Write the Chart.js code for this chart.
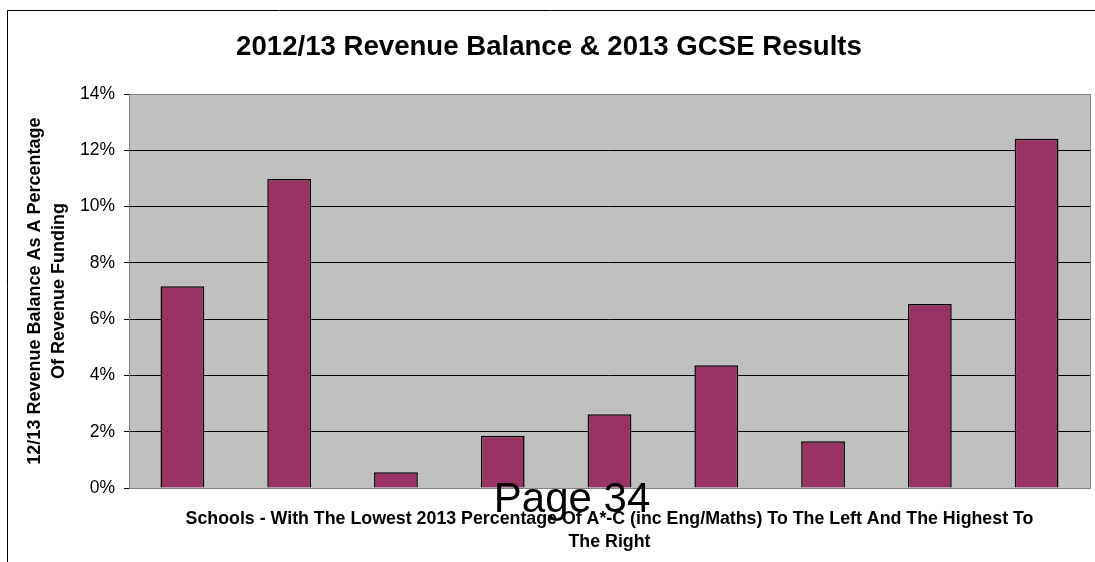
<!DOCTYPE html>
<html>
<head>
<meta charset="utf-8">
<script src="https://cdn.jsdelivr.net/npm/chart.js@4"></script>
<style>
  html, body { margin: 0; padding: 0; background: #fff; }
  #wrap { width: 1095px; height: 562px; position: relative; }
</style>
</head>
<body>
<div id="wrap"><canvas id="balanceChart"></canvas></div>
<script>
// Schools ordered by 2013 A*-C (inc Eng/Maths), lowest on the left
const schools = ["School 1", "School 2", "School 3", "School 4", "School 5",
                 "School 6", "School 7", "School 8", "School 9"];
// 2012/13 revenue balance as % of revenue funding
const balancePct = [7.17, 10.98, 0.56, 1.86, 2.62, 4.36, 1.66, 6.54, 12.41];
const yTicks = [0, 2, 4, 6, 8, 10, 12, 14];

const FONT = "'Liberation Sans', Arial, sans-serif";

// grey plot background + border, outer frame and the page number
const chartDecor = {
  id: "chartDecor",
  beforeDraw(chart) {
    const { ctx, chartArea: a } = chart;
    ctx.save();
    ctx.fillStyle = "#C0C0C0";
    ctx.fillRect(a.left, a.top, a.right - a.left, a.bottom - a.top);
    ctx.restore();
  },
  afterDatasetsDraw(chart) {
    const { ctx, chartArea: a } = chart;
    ctx.save();
    ctx.strokeStyle = "#808080";
    ctx.lineWidth = 1;
    ctx.strokeRect(Math.round(a.left) + 0.5, Math.round(a.top) + 0.5,
                   Math.round(a.right - a.left), Math.round(a.bottom - a.top));
    ctx.restore();
  },
  afterDraw(chart) {
    const ctx = chart.ctx;
    ctx.save();
    ctx.strokeStyle = "#000";
    ctx.lineWidth = 1;
    ctx.beginPath();
    ctx.moveTo(7.5, chart.height);
    ctx.lineTo(7.5, 10.5);
    ctx.lineTo(chart.width, 10.5);
    ctx.stroke();
    ctx.fillStyle = "#000";
    ctx.font = "42px " + FONT;
    ctx.textAlign = "center";
    ctx.textBaseline = "alphabetic";
    ctx.fillText("Page 34", 572, 512);
    ctx.restore();
  }
};

new Chart(document.getElementById("balanceChart"), {
  type: "bar",
  data: {
    labels: schools,
    datasets: [{
      data: balancePct,
      backgroundColor: "#993366",
      borderColor: "#000",
      borderWidth: 1.5,
      categoryPercentage: 1,
      barPercentage: 0.41
    }]
  },
  options: {
    responsive: true,
    maintainAspectRatio: false,
    animation: false,
    layout: { padding: { left: 8, right: 5, top: 10, bottom: 0 } },
    plugins: {
      legend: { display: false },
      tooltip: { enabled: false },
      title: {
        display: true,
        text: "2012/13 Revenue Balance & 2013 GCSE Results",
        color: "#000",
        font: { family: FONT, size: 27.6, weight: "bold" },
        padding: { top: 21, bottom: 30 }
      }
    },
    scales: {
      x: {
        afterFit(scale) { scale.height = 74; },
        grid: { display: false },
        border: { display: false },
        ticks: { display: false },
        title: {
          display: true,
          text: ["Schools - With The Lowest 2013 Percentage Of A*-C (inc Eng/Maths) To The Left And The Highest To",
                 "The Right"],
          color: "#000",
          font: { family: FONT, size: 17.8, weight: "bold", lineHeight: 1.3 },
          padding: { top: 0, bottom: 8 }
        }
      },
      y: {
        min: 0,
        max: 14,
        afterFit(scale) { scale.width = 121; },
        afterBuildTicks(scale) {
          scale.ticks = yTicks.map(v => ({ value: v }));
        },
        grid: {
          color: c => (c.tick && (c.tick.value === 0 || c.tick.value === 14)) ? "#808080" : "#000",
          tickColor: "#000",
          tickLength: 5,
          lineWidth: 1
        },
        border: { display: false },
        ticks: {
          color: "#000",
          padding: 9,
          font: { family: FONT, size: 17.5 },
          callback: v => v + "%"
        },
        title: {
          display: true,
          text: ["12/13 Revenue Balance As A Percentage", "Of Revenue Funding"],
          color: "#000",
          font: { family: FONT, size: 18, weight: "bold", lineHeight: 1.28 },
          padding: { top: 16, bottom: 0 }
        }
      }
    }
  },
  plugins: [chartDecor]
});
</script>
</body>
</html>
